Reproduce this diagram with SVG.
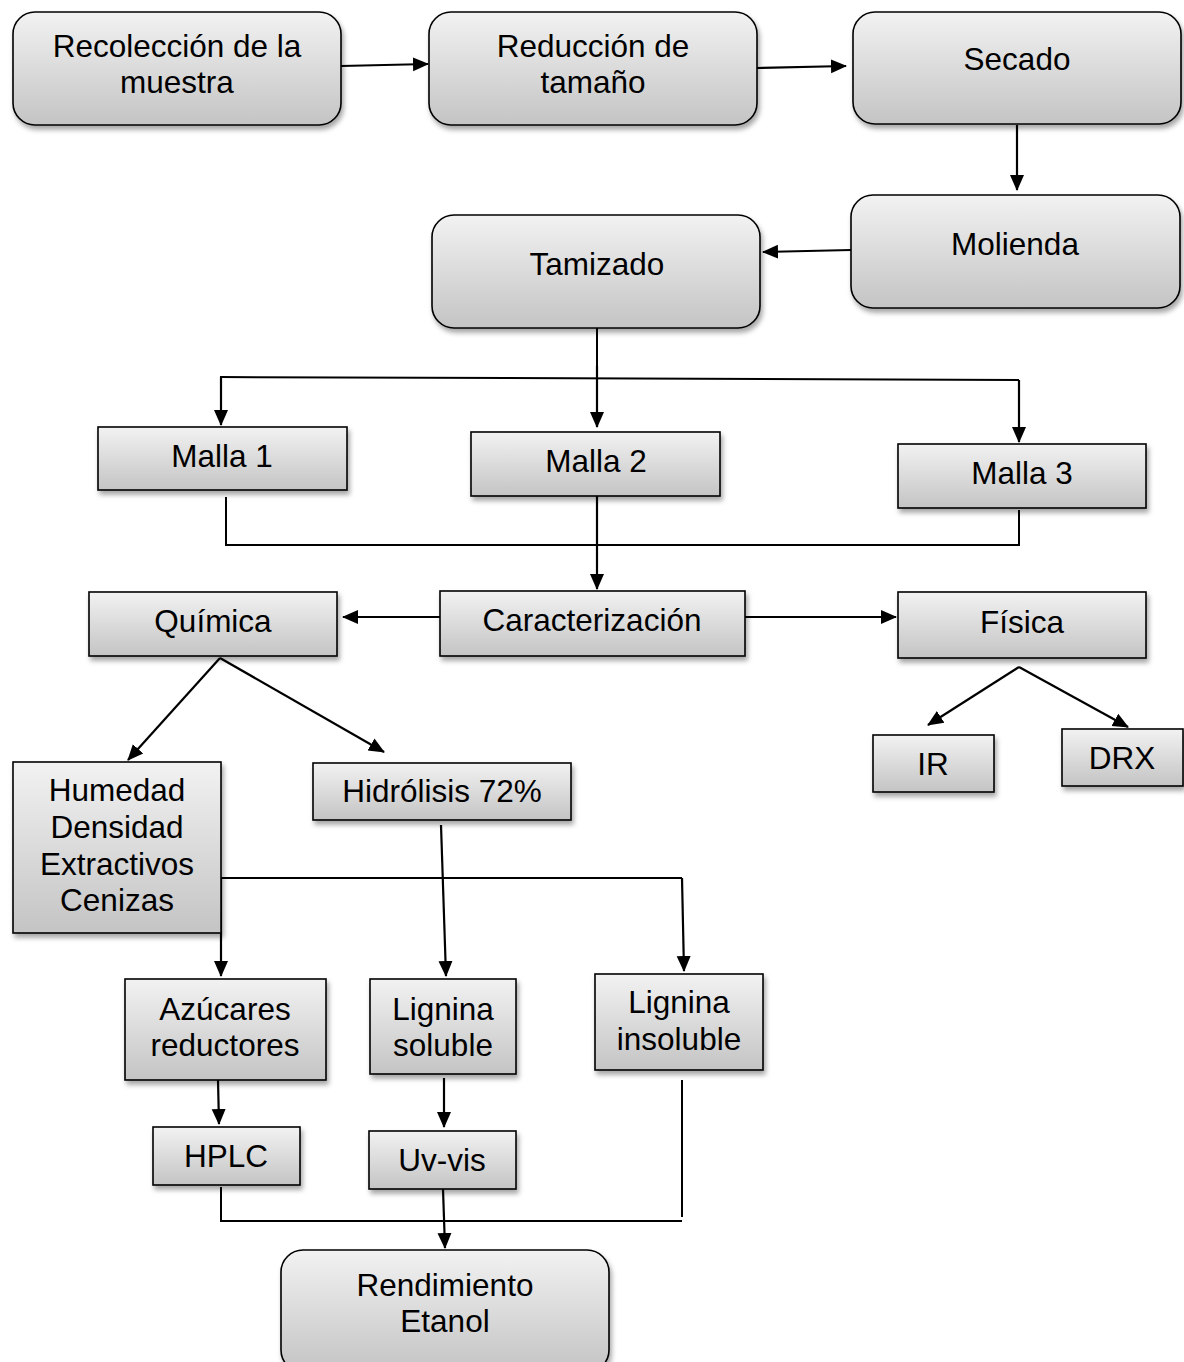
<svg xmlns="http://www.w3.org/2000/svg" width="1184" height="1362" viewBox="0 0 1184 1362">
<defs>
<linearGradient id="g" x1="0" y1="0" x2="0" y2="1">
<stop offset="0" stop-color="#f2f2f2"/>
<stop offset="1" stop-color="#c4c4c4"/>
</linearGradient>
<filter id="sh" x="-10%" y="-10%" width="130%" height="140%">
<feDropShadow dx="2" dy="4" stdDeviation="2.5" flood-color="#000" flood-opacity="0.35"/>
</filter>
<marker id="ah" markerUnits="userSpaceOnUse" markerWidth="16" markerHeight="16" viewBox="0 0 16 16" refX="15" refY="8" orient="auto">
<path d="M0,1 L16,8 L0,15 Z" fill="#000"/>
</marker>
</defs>
<style>
.n{fill:url(#g);stroke:#000;stroke-width:1.6;filter:url(#sh)}
.t{font-family:"Liberation Sans",Arial,sans-serif;font-size:31.5px;fill:#000;text-anchor:middle}
.c{fill:none;stroke:#000;stroke-width:2}
.a{fill:none;stroke:#000;stroke-width:2.2;marker-end:url(#ah)}
</style>
<rect width="1184" height="1362" fill="#fff"/>
<g id="connectors">
<line class="a" x1="341" y1="66" x2="428" y2="64"/>
<line class="a" x1="757" y1="68" x2="846" y2="66"/>
<line class="a" x1="1017" y1="125" x2="1017" y2="190"/>
<line class="a" x1="851" y1="250" x2="763" y2="252"/>
<line class="c" x1="597" y1="328" x2="597" y2="378"/>
<line class="a" x1="597" y1="366" x2="597" y2="427"/>
<polyline class="c" points="220,377 1019,380"/>
<line class="a" x1="221" y1="377" x2="221" y2="425"/>
<line class="a" x1="1019" y1="380" x2="1019" y2="442"/>
<polyline class="c" points="226,497 226,545 1019,545 1019,510"/>
<line class="a" x1="597" y1="496" x2="597" y2="589"/>
<line class="a" x1="440" y1="617" x2="343" y2="617"/>
<line class="a" x1="745" y1="617" x2="896" y2="617"/>
<line class="a" x1="220" y1="658" x2="128" y2="760"/>
<line class="a" x1="220" y1="658" x2="384" y2="752"/>
<line class="a" x1="1019" y1="667" x2="928" y2="725"/>
<line class="a" x1="1019" y1="667" x2="1128" y2="727"/>
<line class="a" x1="441" y1="825" x2="446" y2="976"/>
<line class="c" x1="221" y1="878" x2="682" y2="878"/>
<line class="a" x1="682" y1="878" x2="684" y2="971"/>
<line class="a" x1="221" y1="878" x2="221" y2="976"/>
<line class="a" x1="218" y1="1080" x2="219" y2="1124"/>
<line class="a" x1="444" y1="1078" x2="444" y2="1127"/>
<polyline class="c" points="221,1187 221,1221 682,1221"/>
<line class="c" x1="682" y1="1080" x2="682" y2="1217"/>
<line class="a" x1="443" y1="1189" x2="445" y2="1248"/>
</g>
<g id="n-recoleccion"><rect class="n" x="13" y="12" width="328" height="113" rx="22"/><text class="t" x="177" y="57">Recolección de la</text><text class="t" x="177" y="93">muestra</text></g>
<g id="n-reduccion"><rect class="n" x="429" y="12" width="328" height="113" rx="22"/><text class="t" x="593" y="57">Reducción de</text><text class="t" x="593" y="93">tamaño</text></g>
<g id="n-secado"><rect class="n" x="853" y="12" width="328" height="112" rx="22"/><text class="t" x="1017" y="70">Secado</text></g>
<g id="n-molienda"><rect class="n" x="851" y="195" width="329" height="113" rx="22"/><text class="t" x="1015" y="255">Molienda</text></g>
<g id="n-tamizado"><rect class="n" x="432" y="215" width="328" height="113" rx="22"/><text class="t" x="597" y="275">Tamizado</text></g>
<g id="n-malla1"><rect class="n" x="98" y="427" width="249" height="63"/><text class="t" x="222" y="467">Malla 1</text></g>
<g id="n-malla2"><rect class="n" x="471" y="432" width="249" height="64"/><text class="t" x="596" y="472">Malla 2</text></g>
<g id="n-malla3"><rect class="n" x="898" y="444" width="248" height="64"/><text class="t" x="1022" y="484">Malla 3</text></g>
<g id="n-quimica"><rect class="n" x="89" y="592" width="248" height="64"/><text class="t" x="213" y="632">Química</text></g>
<g id="n-caracterizacion"><rect class="n" x="440" y="591" width="305" height="65"/><text class="t" x="592" y="631">Caracterización</text></g>
<g id="n-fisica"><rect class="n" x="898" y="592" width="248" height="66"/><text class="t" x="1022" y="633">Física</text></g>
<g id="n-ir"><rect class="n" x="873" y="735" width="121" height="57"/><text class="t" x="933" y="775">IR</text></g>
<g id="n-drx"><rect class="n" x="1062" y="729" width="121" height="57"/><text class="t" x="1122" y="769">DRX</text></g>
<g id="n-humedad"><rect class="n" x="13" y="762" width="208" height="171"/><text class="t" x="117" y="801">Humedad</text><text class="t" x="117" y="838">Densidad</text><text class="t" x="117" y="875">Extractivos</text><text class="t" x="117" y="911">Cenizas</text></g>
<g id="n-hidrolisis"><rect class="n" x="313" y="763" width="258" height="57"/><text class="t" x="442" y="802">Hidrólisis 72%</text></g>
<g id="n-azucares"><rect class="n" x="125" y="979" width="201" height="101"/><text class="t" x="225" y="1020">Azúcares</text><text class="t" x="225" y="1056">reductores</text></g>
<g id="n-lignina-soluble"><rect class="n" x="370" y="979" width="146" height="95"/><text class="t" x="443" y="1020">Lignina</text><text class="t" x="443" y="1056">soluble</text></g>
<g id="n-lignina-insoluble"><rect class="n" x="595" y="974" width="168" height="96"/><text class="t" x="679" y="1013">Lignina</text><text class="t" x="679" y="1050">insoluble</text></g>
<g id="n-hplc"><rect class="n" x="153" y="1127" width="147" height="58"/><text class="t" x="226" y="1167">HPLC</text></g>
<g id="n-uvvis"><rect class="n" x="369" y="1131" width="147" height="58"/><text class="t" x="442" y="1171">Uv-vis</text></g>
<g id="n-rendimiento"><rect class="n" x="281" y="1250" width="328" height="122" rx="22"/><text class="t" x="445" y="1296">Rendimiento</text><text class="t" x="445" y="1332">Etanol</text></g>
</svg>
